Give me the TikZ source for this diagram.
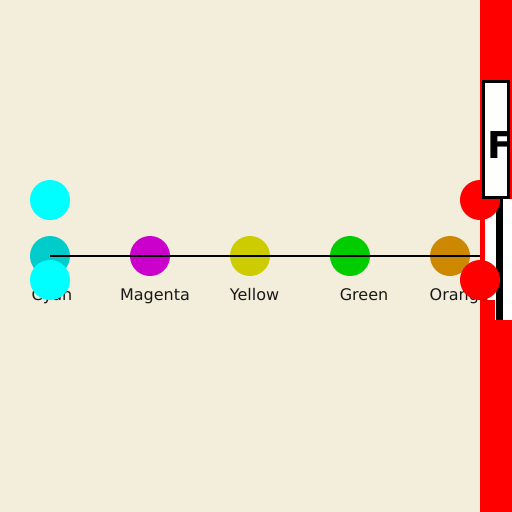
\documentclass[tikz,border=0pt]{standalone}
\usepackage{fontspec}
\setmainfont{DejaVu Sans}
\definecolor{bgc}{HTML}{F3EEDB}
\definecolor{cteal}{HTML}{00CCCC}
\definecolor{cmag}{HTML}{CC00CC}
\definecolor{cyel}{HTML}{CCCC00}
\definecolor{cgrn}{HTML}{00CC00}
\definecolor{corg}{HTML}{CC8800}
\definecolor{ccyan}{HTML}{00FFFF}
\definecolor{cred}{HTML}{FF0000}
\begin{document}
\begin{tikzpicture}[x=1pt,y=-1pt,
  dot/.style={circle,minimum size=40pt,inner sep=0pt,draw=none},
  lbl/.style={anchor=base,inner sep=0pt,font=\fontsize{16}{16}\selectfont,text=black!90}]
\fill[bgc] (0,0) rectangle (512,512);
\useasboundingbox (0,0) rectangle (512,512);
% right side bar
\fill[cred] (480,0) rectangle (512,512);
\fill[white] (485,199) rectangle (512,320);
\fill[cred] (480,300) rectangle (495,320);
\fill[black] (496,197) rectangle (503,320);
% circles
\node[dot,fill=cteal] (cy) at (50,256) {};
\node[dot,fill=cmag] (mg) at (150,256) {};
\node[dot,fill=cyel] (ye) at (250,256) {};
\node[dot,fill=cgrn] (gr) at (350,256) {};
\node[dot,fill=corg] (or) at (450,256) {};
\coordinate (lend) at (480,256);
\draw[line width=2pt] (cy.center) -- (lend);
% labels
\node[lbl] (lcy) at (52,300) {Cyan};
\node[lbl] (lmg) at (155,300) {Magenta};
\node[lbl] (lye) at (254.5,300) {Yellow};
\node[lbl] (lgr) at (364,300) {Green};
\node[lbl,anchor=base west] (lor) at (429.5,300) {Orange};
% overlay circles
\node[dot,fill=ccyan] (c1) at (50,200) {};
\node[dot,fill=ccyan] (c2) at (50,280) {};
\node[dot,fill=cred] (r1) at (480,200) {};
\node[dot,fill=cred] (r2) at (480,280) {};
% box
\node[draw=black,line width=3pt,fill=white,minimum width=25pt,minimum height=116pt,inner sep=0pt] (box) at (496,139.5) {};
\node[anchor=base west,inner sep=0pt,font=\bfseries\fontsize{37}{37}\selectfont] (ft) at (486.8,158) {F};
\end{tikzpicture}
\end{document}
